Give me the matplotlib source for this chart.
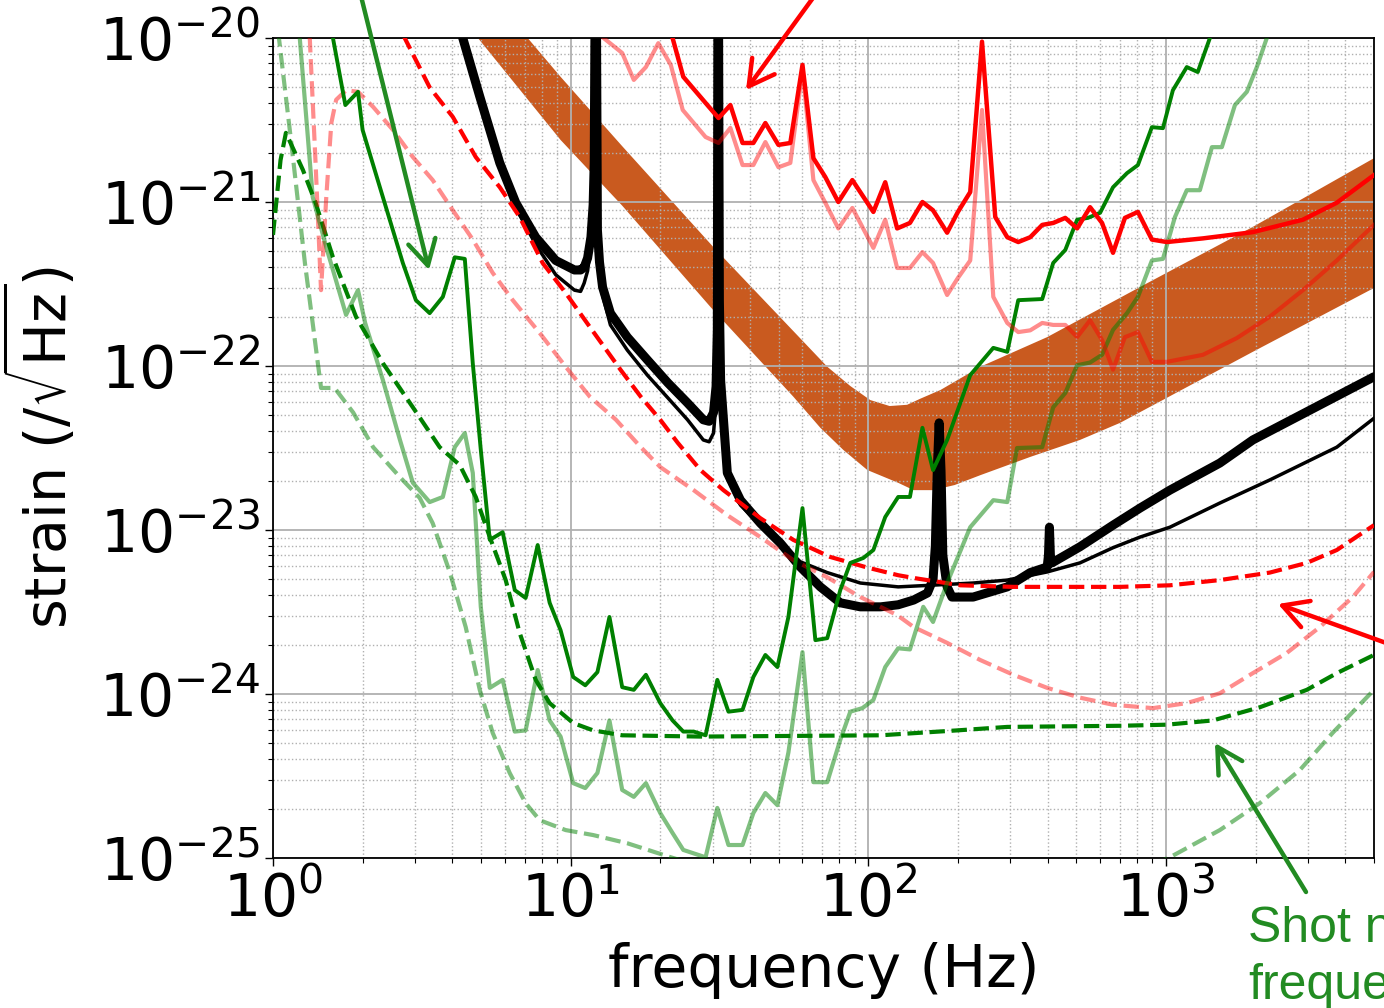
import numpy as np
import matplotlib
matplotlib.use("Agg")
import matplotlib.pyplot as plt

# ---------------- data ----------------
# dark green solid
g_f = [1.52, 1.59, 1.75, 1.93, 2.00, 2.34, 2.73, 3.02, 3.36, 3.72, 4.08, 4.41, 4.69, 4.99,
       5.35, 5.91, 6.49, 7.06, 7.75, 8.50, 9.25, 10.2, 11.2, 12.3, 13.5, 14.9, 16.3, 17.9,
       20.0, 22.0, 23.9, 25.9, 28.4, 31.1, 33.9, 37.8, 41.1, 45.1, 49.5, 53.9, 60.1, 66.4,
       72.8, 80.5, 87.0, 96.2, 104, 114, 126, 138, 152, 165, 184, 220, 263, 293, 319, 384,
       418, 459, 503, 547, 601, 664, 740, 805, 897, 977, 1055, 1175, 1279, 1405, 1517]
g_h = [1.6e-20, 1.0e-20, 3.9e-21, 4.7e-21, 2.75e-21, 1.07e-21, 4.25e-22, 2.52e-22, 2.1e-22,
       2.64e-22, 4.6e-22, 4.5e-22, 1.04e-22, 3.08e-23, 8.7e-24, 9.7e-24, 4.3e-24, 3.85e-24,
       8.1e-24, 3.6e-24, 2.45e-24, 1.27e-24, 1.13e-24, 1.36e-24, 2.95e-24, 1.10e-24, 1.06e-24,
       1.31e-24, 8.8e-25, 6.9e-25, 5.9e-25, 5.9e-25, 5.6e-25, 1.22e-24, 7.8e-25, 8.0e-25,
       1.27e-24, 1.73e-24, 1.46e-24, 2.95e-24, 1.36e-23, 2.13e-24, 2.19e-24, 4.3e-24, 6.3e-24,
       6.75e-24, 7.55e-24, 1.2e-23, 1.59e-23, 1.59e-23, 4.2e-23, 2.32e-23, 3.54e-23, 8.8e-23,
       1.29e-22, 1.22e-22, 2.52e-22, 2.56e-22, 4.25e-22, 5.1e-22, 7.8e-22, 8.0e-22, 8.6e-22,
       1.23e-21, 1.5e-21, 1.68e-21, 2.86e-21, 2.82e-21, 4.8e-21, 6.65e-21, 6.2e-21, 1.0e-20,
       1.5e-20]

# light green solid
lg_f = [1.20, 1.23, 1.36, 1.51, 1.76, 1.93, 2.04, 2.34, 2.67, 2.95, 3.36, 3.72, 4.08, 4.41,
        4.69, 4.99, 5.35, 5.91, 6.49, 7.06, 7.75, 8.50, 9.25, 10.2, 11.2, 12.3, 13.5, 14.9,
        16.3, 17.9, 20.0, 22.0, 23.9, 28.4, 31.1, 33.9, 37.8, 41.1, 45.1, 49.5, 53.9, 60.1,
        65.4, 72.8, 80.5, 87.0, 95.5, 104, 114, 126, 138, 153, 165, 184, 220, 263, 293, 316,
        384, 418, 459, 503, 556, 610, 664, 740, 805, 897, 977, 1072, 1175, 1300, 1427, 1541,
        1705, 1870, 2020, 2182, 2322]
lg_h = [1.7e-20, 1.0e-20, 1.07e-21, 5.3e-22, 2.05e-22, 2.9e-22, 1.83e-22, 8.2e-23, 3.54e-23,
        1.94e-23, 1.48e-23, 1.59e-23, 3.2e-23, 3.9e-23, 2.23e-23, 3.4e-24, 1.09e-24, 1.22e-24,
        5.9e-25, 6.0e-25, 1.4e-24, 6.9e-25, 5.5e-25, 2.86e-25, 2.67e-25, 3.3e-25, 6.9e-25,
        2.6e-25, 2.36e-25, 2.86e-25, 1.88e-25, 1.42e-25, 1.12e-25, 1.01e-25, 2.02e-25, 1.2e-25,
        1.2e-25, 1.88e-25, 2.49e-25, 2.1e-25, 4.4e-25, 1.8e-24, 2.9e-25, 2.9e-25, 5.25e-25,
        7.8e-25, 8.2e-25, 9.2e-25, 1.46e-24, 1.9e-24, 1.87e-24, 3.4e-24, 2.75e-24, 4.75e-24,
        1.04e-23, 1.52e-23, 1.48e-23, 3.16e-23, 3.2e-23, 5.6e-23, 6.85e-23, 1.01e-22, 1.05e-22,
        1.17e-22, 1.66e-22, 2.1e-22, 2.64e-22, 4.4e-22, 4.5e-22, 8.1e-22, 1.18e-21, 1.18e-21,
        2.16e-21, 2.16e-21, 3.9e-21, 4.7e-21, 6.65e-21, 1.0e-20, 1.5e-20]

# dark green dashed
gd_f = [1.0, 1.06, 1.105, 1.26, 1.39, 1.59, 1.90, 2.34, 2.95, 3.63, 4.24, 4.80, 5.35, 6.05,
        6.74, 7.63, 8.50, 10.2, 11.9, 14.9, 27.3, 110, 199, 293, 701, 1007, 1438, 2067, 2972,
        3750, 5000]
gd_h = [6.3e-22, 1.8e-21, 2.64e-21, 1.57e-21, 9.9e-22, 4.6e-22, 2.0e-22, 1.04e-22, 5.6e-23,
        3.2e-23, 2.49e-23, 1.59e-23, 9.05e-24, 4.95e-24, 2.36e-24, 1.22e-24, 8.8e-25, 6.65e-25,
        6.0e-25, 5.6e-25, 5.5e-25, 5.6e-25, 6.0e-25, 6.3e-25, 6.4e-25, 6.5e-25, 6.9e-25,
        8.3e-25, 1.06e-24, 1.34e-24, 1.73e-24]

# light green dashed
lgd_f = [1.03, 1.047, 1.149, 1.28, 1.45, 1.61, 1.86, 2.17, 2.67, 3.11, 3.44, 3.93, 4.44, 4.95,
         5.47, 6.24, 7.06, 7.87, 9.62, 11.9, 15.5, 21.7, 27.3, 883, 1031, 1517, 2067, 2818,
         3633, 5000]
lgd_h = [1.5e-20, 1.0e-20, 2.39e-21, 4.25e-22, 7.35e-23, 7.35e-23, 5.2e-23, 3.2e-23, 2.1e-23,
         1.57e-23, 1.1e-23, 5.5e-24, 2.56e-24, 1.06e-24, 5.8e-25, 3.3e-25, 2.16e-25, 1.7e-25,
         1.48e-25, 1.38e-25, 1.23e-25, 1.01e-25, 8.9e-26, 8.9e-26, 1.01e-25, 1.48e-25,
         2.16e-25, 3.44e-25, 5.8e-25, 1.06e-24]

# dark red dashed
rd_f = [2.55, 2.77, 3.36, 4.02, 4.80, 5.78, 6.74, 8.05, 9.62, 11.6, 14.7, 17.2, 20.0, 22.9,
        27.3, 32.6, 43.4, 56.0, 74.5, 99.3, 126, 142, 204, 307, 701, 1031, 1517, 2234, 2972,
        3750, 5000]
rd_h = [1.38e-20, 1.0e-20, 5.0e-21, 3.3e-21, 1.88e-21, 1.23e-21, 8.1e-22, 4.25e-22, 2.79e-22,
        1.73e-22, 9.5e-23, 6.5e-23, 4.7e-23, 3.4e-23, 2.32e-23, 1.75e-23, 1.18e-23, 8.7e-24,
        6.85e-24, 5.9e-24, 5.3e-24, 5.1e-24, 4.6e-24, 4.5e-24, 4.5e-24, 4.6e-24, 4.95e-24,
        5.5e-24, 6.3e-24, 7.55e-24, 1.07e-23]

# light red dashed
lrd_f = [1.31, 1.33, 1.39, 1.45, 1.51, 1.57, 1.63, 1.76, 1.93, 2.17, 2.53, 2.95, 3.44, 4.02,
         4.69, 5.47, 6.39, 7.87, 9.62, 11.6, 14.2, 17.2, 20.0, 25.9, 33.6, 43.4, 56.0, 72.8,
         94.0, 125, 142, 184, 238, 307, 399, 514, 664, 904, 1175, 1517, 1958, 2547, 3289,
         4244, 5000]
lrd_h = [1.38e-20, 9.7e-21, 1.73e-21, 2.9e-22, 1.07e-21, 3.03e-21, 4.2e-21, 4.8e-21, 4.7e-21,
         3.8e-21, 2.75e-21, 1.88e-21, 1.36e-21, 8.9e-22, 5.9e-22, 3.7e-22, 2.52e-22, 1.59e-22,
         9.9e-23, 6.5e-23, 4.7e-23, 3.2e-23, 2.42e-23, 1.75e-23, 1.23e-23, 9.05e-24, 6.55e-24,
         5.15e-24, 3.9e-24, 3.03e-24, 2.56e-24, 2.05e-24, 1.61e-24, 1.31e-24, 1.09e-24,
         9.5e-25, 8.6e-25, 8.2e-25, 8.8e-25, 1.01e-24, 1.34e-24, 1.78e-24, 2.56e-24, 3.9e-24,
         5.55e-24]

# dark red solid
r_f = [21.2, 22.0, 23.9, 28.8, 31.4, 34.4, 37.8, 41.1, 45.1, 49.9, 54.7, 60.1, 65.4, 71.7,
       79.3, 88.4, 104, 114, 125, 138, 152, 165, 184, 200, 220, 241, 267, 293, 319, 350, 384,
       418, 459, 503, 556, 610, 664, 728, 805, 897, 1007, 1331, 1958, 2884, 3750, 5000]
r_h = [1.29e-20, 1.0e-20, 5.8e-21, 3.9e-21, 3.25e-21, 3.9e-21, 2.29e-21, 2.29e-21, 3.03e-21,
       2.23e-21, 2.29e-21, 6.85e-21, 1.85e-21, 1.42e-21, 1.0e-21, 1.36e-21, 8.7e-22, 1.32e-21,
       6.9e-22, 7.45e-22, 1.0e-21, 8.9e-22, 6.5e-22, 8.7e-22, 1.15e-21, 9.5e-21, 8.1e-22,
       6.1e-22, 5.7e-22, 6.1e-22, 7.25e-22, 7.45e-22, 8.0e-22, 6.9e-22, 9.3e-22, 7.45e-22,
       4.9e-22, 8.0e-22, 8.7e-22, 5.9e-22, 5.7e-22, 6.0e-22, 6.55e-22, 7.8e-22, 9.9e-22,
       1.46e-21]

# light red solid
lr_f = [12.4, 12.9, 14.9, 16.3, 17.9, 19.7, 21.7, 23.8, 28.4, 31.4, 34.4, 37.8, 41.1, 45.1,
        49.9, 54.7, 60.1, 65.4, 71.7, 79.3, 88.4, 104, 114, 125, 138, 152, 165, 184, 200, 220,
        241, 263, 293, 319, 350, 384, 418, 459, 503, 556, 610, 664, 728, 805, 897, 1007, 1331,
        1730, 2234, 2884, 3750, 5000]
lr_h = [1.12e-20, 1.0e-20, 8.1e-21, 5.55e-21, 6.65e-21, 9.3e-21, 6.85e-21, 3.64e-21, 2.49e-21,
        2.29e-21, 2.83e-21, 1.68e-21, 1.68e-21, 2.32e-21, 1.63e-21, 1.73e-21, 6.4e-21, 1.36e-21,
        9.9e-22, 6.9e-22, 9.2e-22, 5.25e-22, 7.8e-22, 3.96e-22, 3.96e-22, 4.95e-22, 4.25e-22,
        2.71e-22, 3.44e-22, 4.4e-22, 3.64e-21, 2.64e-22, 1.83e-22, 1.61e-22, 1.65e-22, 1.83e-22,
        1.78e-22, 1.78e-22, 1.5e-22, 1.9e-22, 1.44e-22, 9.5e-23, 1.5e-22, 1.61e-22, 1.06e-22,
        1.06e-22, 1.17e-22, 1.48e-22, 2.0e-22, 2.9e-22, 4.4e-22, 7.25e-22]

# black thick
bk_f = [4.17, 4.34, 4.95, 5.78, 6.54, 7.63, 8.91, 10.3, 10.8, 11.1, 11.4, 11.7, 11.9, 12.0,
        12.15, 12.3, 12.5, 12.8, 13.6, 15.5, 18.1, 21.2, 24.7, 27.9, 29.2, 30.2, 30.8, 31.1,
        31.3, 31.6, 31.9, 33.6, 37.2, 43.4, 50.7, 59.1, 69.0, 80.5, 94.0, 110, 126, 142, 158,
        165, 168, 170.5, 173, 175.5, 178, 184, 191, 225, 293, 350, 399, 403, 406, 409, 414,
        514, 664, 818, 1031, 1517, 1958, 5000]
bk_h = [1.29e-20, 1.0e-20, 4.4e-21, 1.73e-21, 9.9e-22, 6.1e-22, 4.4e-22, 3.85e-22, 3.85e-22,
        4.0e-22, 4.55e-22, 6.1e-22, 9.6e-22, 1.73e-21, 1e-19, 6.75e-22, 4.3e-22, 3.03e-22,
        2.1e-22, 1.5e-22, 1.09e-22, 7.9e-23, 5.95e-23, 4.7e-23, 4.6e-23, 5.2e-23, 7.5e-23,
        1.66e-22, 1e-19, 2.5e-22, 8.2e-23, 2.23e-23, 1.52e-23, 1.1e-23, 8.3e-24, 5.95e-24,
        4.5e-24, 3.6e-24, 3.4e-24, 3.4e-24, 3.5e-24, 3.74e-24, 4.13e-24, 5.0e-24, 8.0e-24,
        2.3e-23, 4.5e-23, 2.3e-23, 7.0e-24, 4.5e-24, 3.9e-24, 3.9e-24, 4.5e-24, 5.5e-24,
        5.95e-24, 7.0e-24, 1.04e-23, 7.0e-24, 6.3e-24, 7.9e-24, 1.07e-23, 1.36e-23, 1.75e-23,
        2.56e-23, 3.54e-23, 8.6e-23]

# black thin
bt_f = [4.17, 4.34, 4.95, 5.78, 6.54, 7.63, 8.91, 10.3, 10.8, 11.1, 11.4, 11.7, 11.9, 12.0,
        12.15, 12.3, 12.5, 12.8, 13.6, 15.5, 18.1, 21.2, 24.7, 27.9, 29.2, 30.2, 30.8, 31.1,
        31.3, 31.6, 31.9, 33.6, 37.2, 43.4, 50.7, 59.1, 72.8, 94.0, 126, 161, 225, 293, 399,
        514, 664, 818, 1031, 1517, 2234, 3750, 5000]
bt_h = [1.29e-20, 1.0e-20, 4.4e-21, 1.68e-21, 9.3e-22, 5.5e-22, 3.6e-22, 2.9e-22, 2.85e-22,
        3.2e-22, 3.8e-22, 5.5e-22, 9.0e-22, 1.73e-21, 1e-19, 6.3e-22, 3.9e-22, 2.71e-22,
        1.78e-22, 1.25e-22, 8.8e-23, 6.4e-23, 4.7e-23, 3.54e-23, 3.45e-23, 3.9e-23, 6.0e-23,
        1.66e-22, 1e-19, 2.3e-22, 7.15e-23, 2.07e-23, 1.42e-23, 1.07e-23, 8.3e-24, 6.4e-24,
        5.5e-24, 4.75e-24, 4.5e-24, 4.6e-24, 4.75e-24, 4.95e-24, 5.55e-24, 6.3e-24, 7.8e-24,
        9.05e-24, 1.04e-23, 1.46e-23, 2.02e-23, 3.2e-23, 4.8e-23]

# orange band (upper and lower edges)
band_up_f = [6.05, 7.17, 9.25, 14.9, 30.2, 72.8, 87.0, 101.5, 118, 135, 149, 175, 238, 399,
             818, 1958, 5000]
band_up_h = [1.42e-20, 1.0e-20, 5.8e-21, 2.19e-21, 5.3e-22, 9.9e-23, 7.55e-23, 6.2e-23, 5.7e-23,
             5.8e-23, 6.3e-23, 7.15e-23, 9.9e-23, 1.5e-22, 3.03e-22, 7.05e-22, 1.85e-21]
band_lo_f = [4.11, 4.88, 9.25, 14.9, 29.5, 56.0, 69.0, 82.4, 99.3, 126, 142, 165, 195, 238,
             350, 514, 701, 1958, 5000]
band_lo_h = [1.42e-20, 1.0e-20, 2.39e-21, 9.5e-22, 2.29e-22, 6.5e-23, 4.2e-23, 3.08e-23,
             2.32e-23, 1.94e-23, 1.75e-23, 1.75e-23, 1.88e-23, 2.16e-23, 2.79e-23, 3.54e-23,
             4.5e-23, 1.22e-22, 2.99e-22]

x_label = "frequency (Hz)"
y_label = r"strain ($/\sqrt{\mathrm{Hz}}$)"
note_text = "Shot noise at high\nfrequencies"

# ---------------- figure ----------------
W, H = 1384, 1008
fig = plt.figure(figsize=(W / 100, H / 100), dpi=100)
ax = fig.add_axes([273 / W, 1 - 858 / H, (1374 - 273) / W, (858 - 38) / H])
ax.set_xscale("log")
ax.set_yscale("log")

band_color = "#C95A1F"
ax.fill(np.concatenate([band_up_f, band_lo_f[::-1]]),
        np.concatenate([band_up_h, band_lo_h[::-1]]),
        color=band_color, lw=0, zorder=1)

ax.plot(bk_f, bk_h, color="black", lw=6.5, solid_capstyle="round", solid_joinstyle="round", zorder=2)
ax.plot(bt_f, bt_h, color="black", lw=2.5, solid_joinstyle="round", zorder=2)

ax.plot(lgd_f, lgd_h, color="green", alpha=0.5, lw=3, ls="--", zorder=3)
ax.plot(gd_f, gd_h, color="green", lw=3, ls="--", zorder=3)
ax.plot(lrd_f, lrd_h, color="red", alpha=0.45, lw=3, ls="--", zorder=3)
ax.plot(rd_f, rd_h, color="red", lw=3, ls="--", zorder=3)
ax.plot(lg_f, lg_h, color="green", alpha=0.5, lw=3, zorder=4)
ax.plot(g_f, g_h, color="green", lw=2.8, zorder=4)
ax.plot(lr_f, lr_h, color="red", alpha=0.45, lw=3, zorder=4)
ax.plot(r_f, r_h, color="red", lw=3.2, zorder=4)

ax.set_xlim(1, 5000)
ax.set_ylim(1e-25, 1e-20)

ax.grid(True, which="major", color="#b0b0b0", lw=1.3, ls="-")
ax.grid(True, which="minor", color="#b0b0b0", lw=1.0, ls=":")
ax.tick_params(which="major", labelsize=42, length=6, width=1)
ax.tick_params(which="minor", length=3.5, width=0.8)
for s in ax.spines.values():
    s.set_linewidth(1.3)

ax.set_xlabel(x_label, fontsize=42)
ax.set_ylabel(y_label, fontsize=41)
ax.xaxis.set_label_coords(0.5, -0.103)
ax.yaxis.set_label_coords(-0.176, 0.5)

# ---------------- annotations (arrows running off the cropped figure) ----------------
def fpx(px, py):
    return (px / W, 1 - py / H)

arrow_green = "#228B22"
def arrow(start, tip, color):
    fig.add_artist(matplotlib.patches.FancyArrowPatch(
        fpx(*start), fpx(*tip), transform=fig.transFigure,
        arrowstyle="->,head_length=0.9,head_width=0.5", mutation_scale=20,
        color=color, lw=3.2, shrinkA=0, shrinkB=0, zorder=10))

arrow((357, -20), (429, 270), arrow_green)
arrow((826, -20), (746, 90), "red")
arrow((1400, 648), (1278, 604), "red")
arrow((1306, 892), (1215, 743), arrow_green)

fig.text(1248 / W, 1 - 906 / H, note_text, ha="left", va="top", fontsize=36,
         color=arrow_green, family=["Liberation Sans", "DejaVu Sans"], linespacing=1.3)

fig.savefig("out.png", dpi=100)
